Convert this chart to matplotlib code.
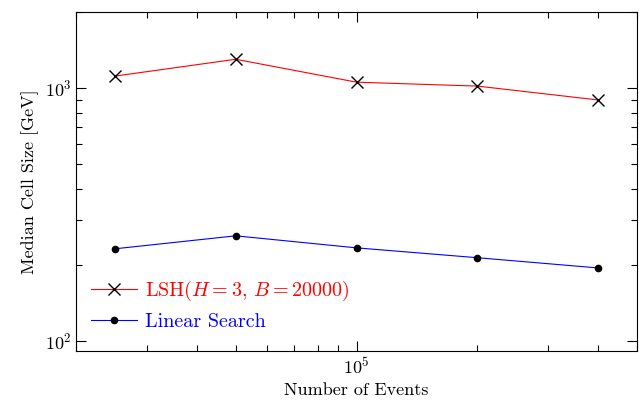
import matplotlib.pyplot as plt
import matplotlib.ticker as mticker

plt.rcParams['font.family'] = 'serif'
plt.rcParams['font.serif'] = ['cmr10']
plt.rcParams['mathtext.fontset'] = 'cm'
plt.rcParams['axes.formatter.use_mathtext'] = True
plt.rcParams['axes.unicode_minus'] = False

# data
n_events = [25000, 50000, 100000, 200000, 400000]
lsh_size = [1115, 1300, 1055, 1018, 897]
linear_size = [231, 260, 233, 213, 194]

fig = plt.figure(figsize=(6.39, 4.0), dpi=100)
ax = fig.add_axes([76/639, 49/400, 561/639, 339/400])

ax.plot(n_events, lsh_size, color='red', lw=0.8, marker='x', ms=8,
        mec='black', mfc='black', mew=1.0, label=r'LSH$(H=3,\,B=20000)$')
ax.plot(n_events, linear_size, color='blue', lw=0.8, marker='o', ms=4.5,
        mec='black', mfc='black', label='Linear Search')

ax.set_xscale('log')
ax.set_yscale('log')
ax.set_xlim(20000, 500000)
ax.set_ylim(91, 2000)

ax.tick_params(which='both', direction='in', top=True, right=True, labelsize=13)
ax.tick_params(which='major', length=7, width=0.8)
ax.tick_params(which='minor', length=4, width=0.8)
ax.yaxis.set_minor_formatter(mticker.NullFormatter())
ax.xaxis.set_minor_formatter(mticker.NullFormatter())

ax.set_xlabel('Number of Events', fontsize=13)
ax.set_ylabel('Median Cell Size [GeV]', fontsize=13)

leg = ax.legend(loc='lower left', bbox_to_anchor=(0.027, 0.058),
                frameon=False, fontsize=14.5, handlelength=2.3,
                handletextpad=0.35, borderpad=0, borderaxespad=0,
                labelspacing=0.5)
for text, col in zip(leg.get_texts(), ['red', 'blue']):
    text.set_color(col)

fig.savefig('out.png', dpi=100)
